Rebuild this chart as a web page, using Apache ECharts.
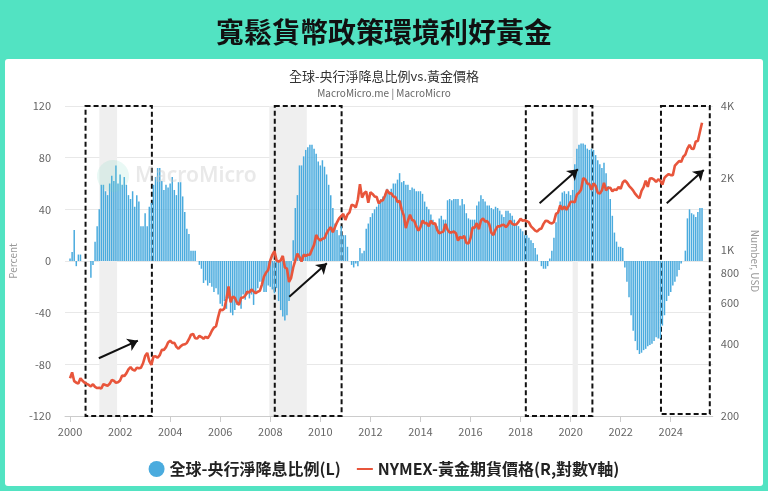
<!DOCTYPE html>
<html><head><meta charset="utf-8">
<script src="https://cdn.jsdelivr.net/npm/echarts@6/dist/echarts.min.js"></script>
<style>
html,body{margin:0;padding:0;width:768px;height:491px;background:#52e3c2;overflow:hidden;}
#panel{position:absolute;left:5px;top:59px;width:758px;height:427px;background:#fff;border-radius:3px;}
#chart{position:absolute;left:0;top:0;width:768px;height:491px;}
</style></head><body>
<div id="panel"></div><div id="chart"></div>
<script>
// ---- data (monthly, starting Jan 2000) ----
const START_YEAR = 2000;
const xTickYears = [2000,2002,2004,2006,2008,2010,2012,2014,2016,2018,2020,2022,2024];
const leftTicks = [-120,-80,-40,0,40,80,120];
const rightTickValues = [200,400,600,800,1000,2000,4000];
const rightTickLabels = ['200','400','600','800','1K','2K','4K'];

// 全球-央行淨降息比例 (%), monthly
const rateCutShare = [
  2, 7, 24, -4, 5, 5, 0, 0, 0, 0, -13, -3,          // 2000
  15, 27, 40, 59, 59, 54, 51, 60, 66, 62, 74, 60,    // 2001
  67, 59, 65, 59, 51, 48, 54, 42, 51, 46, 27, 27,    // 2002
  37, 27, 42, 45, 59, 65, 72, 72, 62, 55, 59, 57,    // 2003
  60, 65, 55, 51, 61, 61, 50, 38, 25, 21, 8, 8,      // 2004
  8, 0, -3, -6, -17, -15, -19, -17, -20, -24, -21, -26, // 2005
  -33, -35, -31, -37, -29, -40, -42, -38, -34, -33, -37, -26, // 2006
  -30, -26, -29, -26, -34, -25, -21, -16, -16, -24, -24, -19, // 2007
  -20, -22, -25, -21, -31, -38, -43, -46, -42, -31, -12, 16,  // 2008
  41, 51, 74, 74, 81, 86, 88, 90, 90, 87, 83, 77,    // 2009
  74, 78, 73, 67, 59, 51, 41, 29, 24, 20, 27, 20,    // 2010
  20, 11, 0, -3, -5, -2, -4, 10, 6, 8, 25, 29,       // 2011
  34, 37, 40, 42, 44, 48, 50, 52, 56, 54, 56, 60,    // 2012
  60, 63, 68, 61, 62, 59, 59, 55, 57, 56, 54, 54,    // 2013
  54, 52, 46, 42, 40, 36, 32, 28, 27, 33, 35, 32,    // 2014
  32, 47, 48, 47, 48, 48, 48, 43, 48, 44, 37, 33,    // 2015
  32, 32, 32, 43, 46, 51, 48, 46, 43, 43, 41, 40,    // 2016
  42, 41, 39, 36, 34, 39, 39, 37, 35, 32, 29, 27,    // 2017
  25, 23, 20, 20, 18, 16, 14, 10, 5, 0, -4, -6,      // 2018
  -6, -4, 2, 8, 18, 30, 39, 46, 53, 54, 52, 54,      // 2019
  51, 55, 75, 87, 90, 91, 91, 90, 87, 86, 87, 86,    // 2020
  82, 78, 75, 72, 76, 68, 58, 48, 35, 22, 15, 11,    // 2021
  11, 10, -5, -16, -28, -42, -54, -62, -69, -72, -71, -69, // 2022
  -68, -66, -65, -64, -62, -59, -60, -60, -50, -42, -31, -27, // 2023
  -24, -19, -16, -12, -7, -2, 0, 8, 33, 40, 37, 36,  // 2024
  34, 38, 41, 41                                     // 2025
];

// NYMEX 黃金期貨價格 (USD), monthly
const goldPrice = [
  288, 305, 280, 276, 274, 288, 281, 276, 273, 270, 266, 272,
  265, 262, 263, 261, 272, 270, 268, 273, 283, 281, 276, 277,
  282, 296, 294, 302, 314, 321, 313, 310, 319, 317, 319, 333,
  357, 368, 340, 328, 355, 356, 351, 360, 379, 379, 389, 407,
  414, 405, 406, 390, 383, 392, 398, 400, 405, 420, 439, 442,
  424, 423, 434, 429, 422, 430, 424, 437, 456, 470, 476, 520,
  560, 555, 565, 620, 700, 600, 634, 627, 599, 586, 627, 629,
  640, 665, 660, 680, 667, 655, 665, 670, 712, 770, 800, 820,
  900, 950, 985, 900, 890, 900, 940, 840, 830, 730, 760, 840,
  900, 960, 930, 890, 950, 940, 950, 950, 1000, 1045, 1150, 1110,
  1090, 1110, 1115, 1170, 1210, 1240, 1180, 1240, 1300, 1350, 1380, 1410,
  1330, 1400, 1430, 1540, 1530, 1500, 1620, 1880, 1650, 1720, 1750, 1570,
  1740, 1710, 1670, 1660, 1560, 1600, 1610, 1680, 1780, 1720, 1720, 1670,
  1660, 1580, 1600, 1470, 1390, 1230, 1320, 1400, 1330, 1320, 1250, 1200,
  1240, 1320, 1290, 1290, 1250, 1320, 1280, 1290, 1210, 1170, 1180, 1190,
  1280, 1210, 1180, 1180, 1190, 1170, 1090, 1130, 1115, 1140, 1065, 1060,
  1115, 1235, 1235, 1290, 1215, 1320, 1350, 1310, 1315, 1275, 1175, 1150,
  1210, 1250, 1250, 1265, 1270, 1240, 1270, 1320, 1280, 1270, 1275, 1305,
  1345, 1320, 1325, 1315, 1300, 1250, 1225, 1200, 1190, 1215, 1225, 1280,
  1320, 1315, 1295, 1285, 1305, 1410, 1430, 1530, 1470, 1515, 1465, 1520,
  1585, 1585, 1580, 1700, 1730, 1780, 1990, 1970, 1890, 1880, 1780, 1895,
  1850, 1730, 1715, 1770, 1905, 1770, 1815, 1815, 1755, 1785, 1775, 1830,
  1795, 1910, 1950, 1910, 1850, 1810, 1765, 1710, 1670, 1640, 1760, 1825,
  1945, 1830, 1985, 1990, 1965, 1920, 1970, 1940, 1870, 1995, 2040, 2070,
  2050, 2050, 2250, 2300, 2350, 2330, 2450, 2500, 2650, 2750, 2650, 2640,
  2840, 2850, 3120, 3400
];

// shaded recession periods (decimal years)
const recessions = [[2001.17, 2001.88], [2007.96, 2009.46], [2020.08, 2020.29]];
// dashed highlight boxes: [startYear, endYear, topPercent, bottomPercent]
const boxes = [
  [2000.62, 2003.27, 121.8, -120],
  [2008.18, 2010.85, 121.8, -120],
  [2018.21, 2020.87, 121.8, -120],
  [2023.61, 2025.56, 121.5, -118.5]
];
// arrows: [[fromYear, fromPercent], [toYear, toPercent]]
const arrows = [
  [[2001.15, -75.3], [2002.71, -61.7]],
  [[2008.76, -27.6], [2010.26, -1.8]],
  [[2018.76, 44.7], [2020.29, 71]],
  [[2023.84, 44.7], [2025.32, 70.5]]
];

const SERIES_BAR = '全球-央行淨降息比例(L)';
const SERIES_LINE = 'NYMEX-黃金期貨價格(R,對數Y軸)';

const toXY = (arr) => arr.map((v, i) => [START_YEAR + i / 12, v]);

const chart = echarts.init(document.getElementById('chart'), null, {renderer: 'canvas'});
const FONT = "'Noto Sans CJK TC', 'Noto Sans', sans-serif";

chart.setOption({
  animation: false,
  backgroundColor: 'transparent',
  textStyle: {fontFamily: FONT},
  title: [
    {text: '寬鬆貨幣政策環境利好黃金', left: 'center', top: 13,
     textStyle: {fontSize: 28, fontWeight: 'bold', color: '#111', fontFamily: FONT}},
    {text: '全球-央行淨降息比例vs.黃金價格', left: 'center', top: 65,
     textStyle: {fontSize: 13, fontWeight: 'normal', color: '#333', fontFamily: FONT}},
    {text: 'MacroMicro.me | MacroMicro', left: 'center', top: 83,
     textStyle: {fontSize: 10, fontWeight: 'normal', color: '#666', fontFamily: FONT}}
  ],
  legend: {
    left: 'center', top: 456, itemWidth: 16, itemHeight: 16, itemGap: 16,
    textStyle: {fontSize: 16, color: '#222', fontWeight: 'bold', fontFamily: FONT},
    data: [
      {name: SERIES_BAR, icon: 'circle'},
      {name: SERIES_LINE, icon: 'path://M0,0H16V2H0Z'}
    ]
  },
  grid: {left: 62, right: 55, top: 106, bottom: 75},
  xAxis: {
    type: 'value', min: 1999.8, max: 2025.68,
    axisLine: {show: true, onZero: false, lineStyle: {color: '#ccc'}},
    axisTick: {show: true, customValues: xTickYears, length: 6, lineStyle: {color: '#ccc'}},
    axisLabel: {customValues: xTickYears, color: '#666', fontSize: 11, margin: 10,
      formatter: (v) => String(Math.round(v))},
    splitLine: {show: false}
  },
  yAxis: [
    {type: 'value', position: 'left', min: -120, max: 120, interval: 40,
     name: 'Percent', nameLocation: 'middle', nameGap: 38, nameRotate: 90,
     nameTextStyle: {color: '#999', fontSize: 10},
     axisLabel: {color: '#666', fontSize: 11, margin: 14},
     axisLine: {show: false}, axisTick: {show: false},
     splitLine: {lineStyle: {color: '#e8e8e8'}}},
    {type: 'log', logBase: 10, position: 'right', min: 200, max: 4000,
     axisLabel: {show: false}, axisLine: {show: false}, axisTick: {show: false},
     splitLine: {show: false}},
    {type: 'value', position: 'right', min: Math.log10(200), max: Math.log10(4000),
     name: 'Number, USD', nameLocation: 'middle', nameGap: 31, nameRotate: -90,
     nameTextStyle: {color: '#999', fontSize: 10},
     axisLabel: {customValues: rightTickValues.map(Math.log10), color: '#666', fontSize: 11, margin: 8,
       formatter: (v) => {
         for (let i = 0; i < rightTickValues.length; i++) {
           if (Math.abs(Math.log10(rightTickValues[i]) - v) < 1e-6) return rightTickLabels[i];
         }
         return '';
       }},
     axisLine: {show: false}, axisTick: {show: false}, splitLine: {show: false}}
  ],
  graphic: [
    {type: 'circle', shape: {cx: 113, cy: 176, r: 16}, style: {fill: 'rgba(120,215,190,0.16)'}, z: 50, silent: true},
    {type: 'text', x: 135, y: 176, style: {text: 'MacroMicro', fill: 'rgba(200,200,200,0.4)',
      font: '600 21px "Noto Sans", sans-serif', verticalAlign: 'middle'}, z: 50, silent: true}
  ],
  series: [
    {name: '_recession', type: 'line', data: [], yAxisIndex: 0, z: 0, silent: true,
     markArea: {silent: true, itemStyle: {color: '#efefef'},
       data: recessions.map(r => [{xAxis: r[0]}, {xAxis: r[1]}])}},
    {name: SERIES_BAR, type: 'bar', yAxisIndex: 0, data: toXY(rateCutShare),
     barWidth: 1.5, itemStyle: {color: '#4aabde'}, z: 2},
    {name: SERIES_LINE, type: 'line', yAxisIndex: 1, data: toXY(goldPrice),
     symbol: 'none', showSymbol: false,
     lineStyle: {color: '#e8553b', width: 2.6}, itemStyle: {color: '#e8553b'}, z: 3},
    {name: '_annot', type: 'line', data: [], yAxisIndex: 0, z: 6, silent: true, clip: false,
     markArea: {silent: true,
       itemStyle: {color: 'rgba(0,0,0,0)', borderColor: '#111', borderWidth: 2, borderType: [5, 3]},
       data: boxes.map(b => [{coord: [b[0], b[2]]}, {coord: [b[1], b[3]]}])},
     markLine: {silent: true, symbol: ['none', 'arrow'], symbolSize: 10,
       label: {show: false}, lineStyle: {color: '#111', width: 2, type: 'solid'},
       data: arrows.map(a => [{coord: a[0]}, {coord: a[1]}])}}
  ]
});
</script>
</body></html>
